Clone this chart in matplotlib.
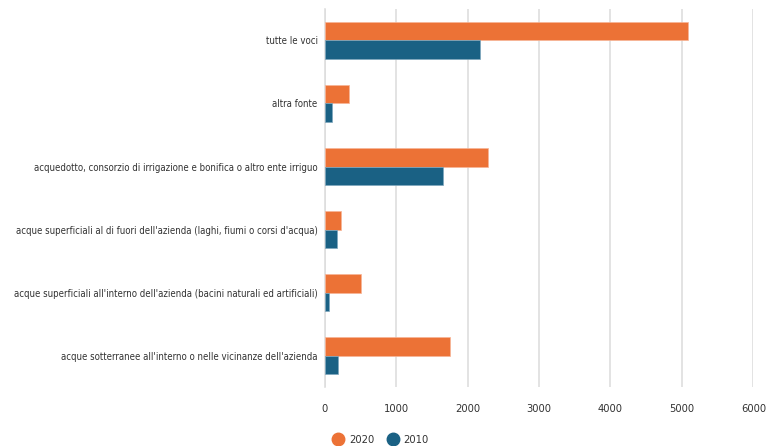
import matplotlib
matplotlib.use("Agg")
import matplotlib.pyplot as plt
import numpy as np
from matplotlib import font_manager
from matplotlib.lines import Line2D

# categories listed top to bottom as in the chart
categories = [
    "tutte le voci",
    "altra fonte",
    "acquedotto, consorzio di irrigazione e bonifica o altro ente irriguo",
    "acque superficiali al di fuori dell'azienda (laghi, fiumi o corsi d'acqua)",
    "acque superficiali all'interno dell'azienda (bacini naturali ed artificiali)",
    "acque sotterranee all'interno o nelle vicinanze dell'azienda",
]
values_2020 = [5090, 345, 2286, 228, 508, 1750]
values_2010 = [2170, 98, 1656, 168, 56, 182]
series_labels = ["2020", "2010"]

ORANGE = "#ec7236"
TEAL = "#1a6184"
GRID = "#dedede"
TEXT = "#333333"

# the original uses a condensed face; look for one that is installed
condensed = None
for f in font_manager.fontManager.ttflist:
    name = f.name.lower()
    if f.style != "normal" or f.weight not in (400, "normal", "regular"):
        continue
    if "condensed" in name or "narrow" in name or str(f.stretch) in ("condensed", "semi-condensed", "extra-condensed", "ultra-condensed"):
        condensed = f.fname
        break

if condensed:
    label_font = font_manager.FontProperties(fname=condensed, size=6.9)
    tick_font = font_manager.FontProperties(fname=condensed, size=8)
    legend_font = font_manager.FontProperties(fname=condensed, size=8)
else:
    label_font = font_manager.FontProperties(family="DejaVu Sans", size=6.3)
    tick_font = font_manager.FontProperties(family="DejaVu Sans", size=7.5)
    legend_font = font_manager.FontProperties(family="DejaVu Sans", size=7.5)

fig = plt.figure(figsize=(7.67, 4.46), dpi=100)
ax = fig.add_axes([0.4233, 0.132, 0.5589, 0.848])

y = np.arange(len(categories))
h = 0.295
ax.barh(y - h / 2, values_2020, height=h, color=ORANGE, edgecolor="#f7b596", linewidth=0.5, zorder=3)
ax.barh(y + h / 2, values_2010, height=h, color=TEAL, edgecolor="#7fa7bd", linewidth=0.5, zorder=3)

ax.set_ylim(len(categories) - 0.5, -0.5)
ax.set_xlim(0, 6000)
ax.set_xticks(np.arange(0, 6001, 1000))
ax.set_yticks(y)
ax.set_yticklabels(categories, fontproperties=label_font, color=TEXT)
for t in ax.get_xticklabels():
    t.set_fontproperties(tick_font)
    t.set_color(TEXT)

ax.grid(axis="x", color=GRID, linewidth=1.2, zorder=0)
ax.set_axisbelow(True)
for s in ["top", "right", "bottom"]:
    ax.spines[s].set_visible(False)
ax.spines["left"].set_color(GRID)
ax.spines["left"].set_linewidth(1.2)

ax.tick_params(axis="y", length=0, pad=5)
ax.tick_params(axis="x", length=0, pad=12)

handles = [
    Line2D([], [], marker="o", linestyle="", markersize=9, color=ORANGE),
    Line2D([], [], marker="o", linestyle="", markersize=9, color=TEAL),
]
leg = fig.legend(handles, series_labels, loc="center left", bbox_to_anchor=(0.421, 0.014),
                 ncol=2, frameon=False, prop=legend_font, handletextpad=0.0, columnspacing=0.6,
                 borderaxespad=0)
for t in leg.get_texts():
    t.set_color(TEXT)

fig.savefig("out.png", dpi=100)
